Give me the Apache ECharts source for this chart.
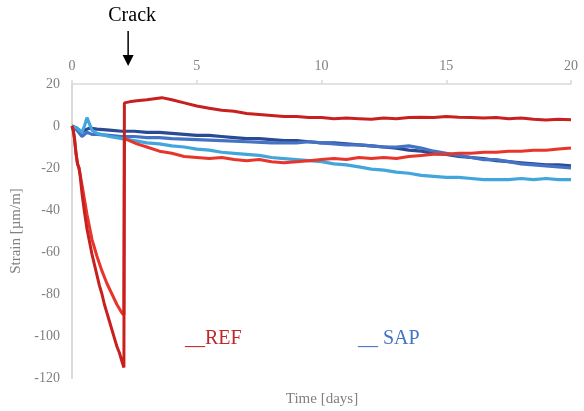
<!DOCTYPE html>
<html>
<head>
<meta charset="utf-8">
<script src="https://cdn.jsdelivr.net/npm/echarts@6/dist/echarts.min.js"></script>
<style>
html,body{margin:0;padding:0;background:#fff;}
#chart{width:584px;height:411px;}
</style>
</head>
<body>
<div id="chart"></div>
<script>
// ---- data: [day, strain µm/m] ----
var xTicks = [0, 5, 10, 15, 20];
var yTicks = [20, 0, -20, -40, -60, -80, -100, -120];
var crackDay = 2.25;

var ref1 = [[0,0],[0.05,-2],[0.1,-6],[0.16,-13],[0.22,-18],[0.28,-20],[0.32,-23],[0.4,-32],[0.5,-41],[0.6,-49],[0.7,-55],[0.8,-61],[0.9,-66],[1.0,-71],[1.1,-76],[1.2,-80],[1.3,-85],[1.4,-89],[1.5,-93],[1.6,-97],[1.7,-101],[1.8,-105],[1.9,-108],[2.0,-112],[2.08,-115],
  [2.1,11],[2.3,11.5],[2.6,12],[3.0,12.5],[3.3,13],[3.6,13.5],[4.0,12.5],[4.5,11],[5.0,9.5],[5.5,8.5],[6.0,7.5],[6.5,7],[7.0,6],[7.5,5.5],[8.0,5],[8.5,4.5],[9.0,4.5],[9.5,4],[10,4],[10.5,3.5],[11,3.8],[11.5,3.5],[12,3.2],[12.5,3.8],[13,3.5],[13.5,4],[14,4.2],[14.5,4],[15,4.5],[15.5,4.2],[16,4],[16.5,3.8],[17,4],[17.5,3.5],[18,3.8],[18.5,3.2],[19,2.8],[19.5,3.2],[20,3]];

var ref2 = [[0,0],[0.05,-2],[0.1,-6],[0.16,-13],[0.22,-18],[0.28,-20],[0.4,-28],[0.5,-35],[0.6,-42],[0.7,-48],[0.8,-54],[0.9,-58],[1.0,-62],[1.2,-69],[1.4,-75],[1.6,-80],[1.8,-85],[2.0,-89],[2.08,-90],
  [2.1,-6],[2.3,-7],[2.6,-8.5],[3,-10],[3.5,-12],[4,-13],[4.5,-14.5],[5,-15],[5.5,-15.5],[6,-15],[6.5,-16],[7,-16.5],[7.5,-16],[8,-17],[8.5,-17.5],[9,-17],[9.5,-16.5],[10,-16],[10.5,-15.5],[11,-16],[11.5,-15],[12,-15.5],[12.5,-15],[13,-15.5],[13.5,-14.5],[14,-14],[14.5,-13.5],[15,-13.5],[15.5,-13],[16,-13],[16.5,-12.5],[17,-12.5],[17.5,-12],[18,-12],[18.5,-11.5],[19,-11.5],[19.5,-11],[20,-10.5]];

var sap1 = [[0,0],[0.2,-1],[0.4,-3],[0.5,-2],[0.7,-1],[1,-1.5],[1.5,-2],[2,-2.5],[2.5,-2.5],[3,-3],[3.5,-3],[4,-3.5],[4.5,-4],[5,-4.5],[5.5,-4.5],[6,-5],[6.5,-5.5],[7,-6],[7.5,-6],[8,-6.5],[8.5,-7],[9,-7],[9.5,-7.5],[10,-8],[10.5,-8],[11,-8.5],[11.5,-9],[12,-9.5],[12.5,-10],[13,-10.5],[13.5,-11.5],[14,-12],[14.5,-13],[15,-13.5],[15.5,-14.5],[16,-15],[16.5,-15.5],[17,-16.5],[17.5,-17],[18,-17.5],[18.5,-18],[19,-18.5],[19.5,-18.5],[20,-19]];

var sap2 = [[0,0],[0.2,-2],[0.4,-5],[0.6,-3],[0.8,-4],[1,-4],[1.5,-4.5],[2,-5],[2.5,-5],[3,-5.5],[3.5,-5.5],[4,-6],[5,-6.5],[6,-7],[7,-7.5],[8,-8],[8.5,-8],[9,-8],[9.5,-7.5],[10,-8],[10.5,-8.5],[11,-9],[11.5,-9],[12,-9.5],[12.5,-10],[13,-10],[13.5,-9.5],[14,-10.5],[14.5,-12],[15,-13],[15.5,-14],[16,-15],[16.5,-16],[17,-16],[17.5,-17],[18,-18],[18.5,-18.5],[19,-19],[19.5,-19.5],[20,-20]];

var sap3 = [[0,0],[0.2,-1],[0.4,-3],[0.5,0],[0.6,4],[0.7,1],[0.8,-2],[1,-3.5],[1.5,-5],[2,-6],[2.5,-7],[3,-8],[3.5,-8.5],[4,-9.5],[4.5,-10],[5,-11],[5.5,-11.5],[6,-12.5],[6.5,-13],[7,-13.5],[7.5,-14],[8,-15],[8.5,-15.5],[9,-16],[9.5,-16.5],[10,-17],[10.5,-18],[11,-18.5],[11.5,-19.5],[12,-20.5],[12.5,-21],[13,-22],[13.5,-22.5],[14,-23.5],[14.5,-24],[15,-24.5],[15.5,-24.5],[16,-25],[16.5,-25.5],[17,-25.5],[17.5,-25.5],[18,-25],[18.5,-25.5],[19,-25],[19.5,-25.5],[20,-25.5]];

var colors = { ref1:'#C8201F', ref2:'#E8352B', sap1:'#2B4A94', sap2:'#4472C4', sap3:'#42A6DC' };
var FONT = 'Liberation Serif, Times New Roman, serif';

var chart = echarts.init(document.getElementById('chart'), null, {renderer:'canvas'});

function line(name, data, color, w) {
  return { name:name, type:'line', data:data, showSymbol:false, symbol:'none', smooth:false,
    lineStyle:{ color:color, width:w }, itemStyle:{color:color}, animation:false, z:2 };
}

chart.setOption({
  animation:false,
  backgroundColor:'#ffffff',
  grid:{ left:72, right:13, top:84, bottom:33, outerBoundsMode:'none' },
  xAxis:{
    type:'value', position:'top', min:xTicks[0], max:xTicks[xTicks.length-1], interval:5,
    axisLine:{ show:true, onZero:false, lineStyle:{ color:'#d9d9d9', width:1.5 } },
    axisTick:{ show:true, length:4, lineStyle:{ color:'#d9d9d9', width:1.5 } },
    splitLine:{ show:false },
    axisLabel:{ color:'#808080', fontFamily:FONT, fontSize:14, margin:11 }
  },
  yAxis:{
    type:'value', min:yTicks[yTicks.length-1], max:yTicks[0], interval:20,
    axisLine:{ show:true, onZero:false, lineStyle:{ color:'#d9d9d9', width:2 } },
    axisTick:{ show:false },
    splitLine:{ show:false },
    axisLabel:{ color:'#808080', fontFamily:FONT, fontSize:14, margin:12 },
    name:'Strain [µm/m]', nameLocation:'middle', nameRotate:90, nameGap:36,
    nameTextStyle:{ color:'#808080', fontFamily:FONT, fontSize:15 }
  },
  series:[
    line('SAP 1', sap1, colors.sap1, 3.2),
    line('SAP 2', sap2, colors.sap2, 3.2),
    line('SAP 3', sap3, colors.sap3, 3.2),
    line('REF 2', ref2, colors.ref2, 3),
    line('REF 1', ref1, colors.ref1, 3)
  ]
});

var ax = chart.convertToPixel({xAxisIndex:0}, crackDay);
chart.setOption({
  graphic:[
    { type:'text', x:ax + 4, y:16, style:{ text:'Crack', fill:'#000', font:'20px ' + FONT, textAlign:'center', textVerticalAlign:'middle' } },
    { type:'line', shape:{ x1:ax, y1:31, x2:ax, y2:57 }, style:{ stroke:'#000', lineWidth:1.5 } },
    { type:'polygon', shape:{ points:[[ax-5.5,55],[ax+5.5,55],[ax,66]] }, style:{ fill:'#000' } },
    { type:'text', x:185, y:339, style:{ text:'__REF', fill:'#C0282D', font:'20px ' + FONT, textVerticalAlign:'middle' } },
    { type:'text', x:358, y:339, style:{ text:'__ SAP', fill:'#4472C4', font:'20px ' + FONT, textVerticalAlign:'middle' } },
    { type:'text', x:322, y:399, style:{ text:'Time [days]', fill:'#808080', font:'15px ' + FONT, textAlign:'center', textVerticalAlign:'middle' } }
  ]
});
</script>
</body>
</html>
